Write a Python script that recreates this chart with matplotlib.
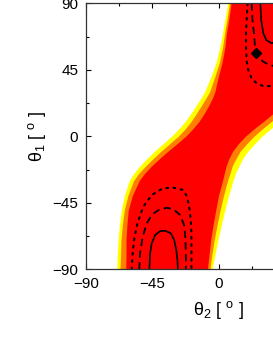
import matplotlib
matplotlib.use("Agg")
import matplotlib.pyplot as plt
import numpy as np

plt.rcParams["font.family"] = ["Liberation Sans", "DejaVu Sans"]
plt.rcParams["mathtext.fontset"] = "custom"
plt.rcParams["mathtext.rm"] = "Liberation Sans"
plt.rcParams["mathtext.it"] = "Liberation Sans:italic"

# theta_1 levels at which the band edges were read
theta1 = [-90, -80, -70, -60, -50, -40, -30, -25, -20, -15, -10, -5, 0,
          5, 10, 15, 20, 25, 30, 40, 50, 60, 70, 80, 90]

# left edges of the band (theta_2): yellow, orange, red
left_yellow = [-69.2, -68.8, -68.3, -67.4, -66.1, -64.0, -60.8, -57.6, -53.6, -48.8, -43.6, -37.9, -32.2,
               -27.3, -23.0, -19.4, -16.0, -12.8, -9.8, -5.6, -1.9, 0.5, 2.4, 4.2, 5.9]
left_orange = [-67.0, -66.6, -66.3, -65.4, -64.1, -61.6, -57.8, -54.3, -49.6, -44.5, -39.2, -33.4, -27.6,
               -22.9, -18.9, -15.6, -12.4, -9.3, -6.4, -2.9, 0.3, 2.4, 3.9, 5.6, 7.1]
left_red = [-63.1, -62.9, -62.9, -62.3, -61.4, -58.6, -54.0, -50.3, -45.6, -40.2, -34.5, -28.4, -22.6,
            -17.8, -13.6, -10.3, -7.4, -4.8, -2.8, -0.5, 2.1, 4.0, 5.1, 6.8, 8.2]

# right edges of the band (theta_2): red, orange, yellow
right_red = [-7.8, -6.7, -5.6, -4.0, -2.2, -0.3, 2.4, 3.6, 4.9, 6.8, 9.3, 13.1, 17.8,
             23.6, 30.0, 36.1, 43.6, 48.5, 52.0, 56.6, 59.4, 60.3, 60.9, 60.9, 61.1]
right_orange = [-6.1, -4.8, -3.2, -1.3, 0.8, 3.1, 5.8, 7.5, 9.0, 11.6, 14.4, 18.8, 23.6,
                29.3, 35.4, 41.5, 47.3, 52.2, 55.7, 59.6, 62.1, 63.4, 64.3, 64.6, 65.0]
right_yellow = [-4.6, -2.7, -0.6, 1.5, 4.0, 6.5, 9.5, 11.2, 13.6, 16.1, 19.6, 24.2, 29.0,
                34.9, 40.8, 46.9, 51.4, 55.8, 58.8, 62.0, 64.1, 65.4, 66.3, 66.8, 67.2]

# contour lines (theta_2, theta_1), lower lobe
low_solid_t2 = [-47.1, -46.6, -45.5, -43.2, -39.8, -36.4, -32.6, -30.3, -28.9, -28.1, -27.8]
low_solid_t1 = [-90, -79.1, -72.4, -66.8, -64.1, -63.9, -65.6, -70.1, -76.9, -83.6, -90]
low_dash_t2 = [-53.9, -53.4, -51.6, -48.8, -45.5, -41.0, -35.3, -30.8, -26.3, -23.6, -22.7, -22.4, -22.4]
low_dash_t1 = [-90, -78.9, -67.9, -58.8, -53.2, -49.9, -48.3, -49.4, -53.2, -60.0, -68.8, -80.3, -90]
low_dot_t2 = [-59.0, -58.6, -57.5, -55.2, -51.2, -45.5, -38.7, -31.9, -24.0, -21.5, -19.8, -18.8, -18.6, -18.6]
low_dot_t1 = [-90, -81.4, -70.2, -58.8, -47.6, -39.7, -35.6, -34.5, -36.3, -41.1, -49.9, -60.0, -70.2, -90]

# contour lines, upper lobe
up_solid_t2 = [28.0, 28.6, 30.0, 32.0, 35.4, 38.8, 42.5, 45.3, 46.6, 47.1]
up_solid_t1 = [90, 78.7, 69.9, 65.2, 63.1, 63.5, 66.5, 72.4, 79.1, 90]
up_dash_t2 = [22.1, 22.7, 23.7, 24.4, 25.1, 26.6, 30.0, 33.4, 36.8, 41.0, 45.5, 48.8, 51.6, 53.4, 53.9]
up_dash_t1 = [90, 78.7, 69.7, 60.6, 56.6, 53.9, 50.5, 48.7, 47.6, 49.9, 53.2, 58.8, 67.9, 78.9, 90]
up_dot_t2 = [19.4, 18.7, 18.3, 18.3, 18.7, 19.8, 22.1, 25.5, 30.0, 34.9, 40.0, 45.5, 51.2, 55.2, 57.5, 58.6, 59.0]
up_dot_t1 = [90, 78.7, 69.7, 60.6, 51.6, 44.9, 39.3, 35.9, 34.0, 34.0, 35.0, 39.7, 47.6, 58.8, 70.2, 81.4, 90]

# minimum marker
min_t2 = [25.1]
min_t1 = [56.6]

fig = plt.figure(figsize=(2.73, 3.53), dpi=100)
# the axes run past the right edge of the picture on purpose
ax = fig.add_axes([0.315, 0.237, 0.974, 0.7535])
ax.set_axisbelow(True)

# Plot the band
ax.fill_betweenx(theta1, left_yellow, right_yellow, color="#ffff00", lw=0)
ax.fill_betweenx(theta1, left_orange, right_orange, color="#ff8000", lw=0)
ax.fill_betweenx(theta1, left_red, right_red, color="#ff0000", lw=0)

# Plot the contour lines
for t2, t1 in [(low_solid_t2, low_solid_t1), (up_solid_t2, up_solid_t1)]:
    ax.plot(t2, t1, color="k", lw=1.2)
for t2, t1 in [(low_dash_t2, low_dash_t1), (up_dash_t2, up_dash_t1)]:
    ax.plot(t2, t1, color="k", lw=1.3, dashes=(4, 2.5))
for t2, t1 in [(low_dot_t2, low_dot_t1), (up_dot_t2, up_dot_t1)]:
    ax.plot(t2, t1, color="k", lw=1.5, dashes=(0.9, 2.6), dash_capstyle="round")
ax.plot(min_t2, min_t1, "kD", ms=5)

ax.set_xlim(-90, 90)
ax.set_ylim(-90, 90)
ax.set_xticks([-90, -45, 0, 45, 90])
ax.set_yticks([-90, -45, 0, 45, 90])
ax.set_xticks([-67.5, -22.5, 22.5, 67.5], minor=True)
ax.set_yticks([-67.5, -22.5, 22.5, 67.5], minor=True)
ax.tick_params(which="both", direction="in", top=True, right=True, width=0.8,
               labelsize=11, pad=5.5)
ax.tick_params(which="major", length=3.8)
ax.tick_params(which="minor", length=2.3)
for s in ax.spines.values():
    s.set_linewidth(0.9)
    s.set_color("#333333")

ax.set_xlabel(r"θ$_2$ [ $^{\rm o}$ ]", fontsize=13, labelpad=6)
ax.set_ylabel(r"θ$_1$ [ $^{\rm o}$ ]", fontsize=13, labelpad=3)

fig.savefig("out.png", dpi=100)
plt.close()
